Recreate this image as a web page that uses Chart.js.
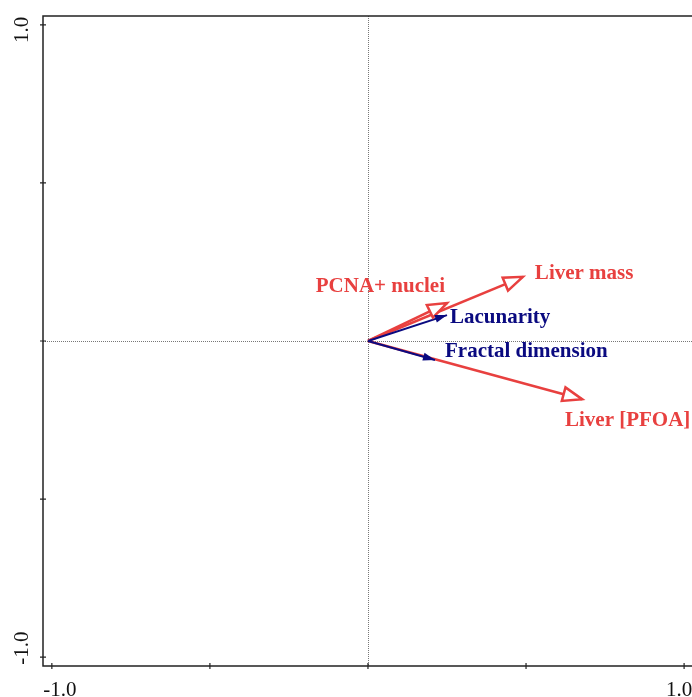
<!DOCTYPE html>
<html>
<head>
<meta charset="utf-8">
<script src="https://cdn.jsdelivr.net/npm/chart.js@4.4.1/dist/chart.umd.min.js"></script>
<style>
  html, body { margin: 0; padding: 0; background: #fff; }
  #wrap { width: 692px; height: 697px; }
</style>
</head>
<body>
<div id="wrap"><canvas id="biplot"></canvas></div>
<script>
const variables = ["Liver mass", "PCNA+ nuclei", "Lacunarity", "Fractal dimension", "Liver [PFOA]"];
const axis1 = [0.49, 0.25, 0.25, 0.212, 0.677];
const axis2 = [0.203, 0.12, 0.082, -0.06, -0.184];
const kinds = ["response", "response", "explanatory", "explanatory", "response"];
const tickValues = [-1, -0.5, 0, 0.5, 1];
const tickLabels = ["-1.0", "", "", "", "1.0"];

const RED = "#e8403f";
const NAVY = "#0a0a80";
const colorOf = k => k === "response" ? RED : NAVY;

// where each label sits relative to its arrow tip
const labelPlace = {
  "Liver mass": { dx: 12, dy: -3, align: "left" },
  "PCNA+ nuclei": { dx: -2, dy: -16, align: "right" },
  "Lacunarity": { dx: 3, dy: 3, align: "left" },
  "Fractal dimension": { dx: 10, dy: -8, align: "left" },
  "Liver [PFOA]": { dx: -17, dy: 21, align: "left" }
};

const datasets = variables.map((name, i) => ({
  label: name,
  data: [{ x: 0, y: 0 }, { x: axis1[i], y: axis2[i] }],
  showLine: true,
  borderColor: colorOf(kinds[i]),
  borderWidth: kinds[i] === "response" ? 2.5 : 2,
  pointRadius: 0,
  order: kinds[i] === "response" ? 2 : 1
}));

const biplotDecor = {
  id: "biplotDecor",
  beforeDatasetsDraw(chart) {
    const { ctx, chartArea: a, scales: { x, y } } = chart;
    ctx.save();
    ctx.strokeStyle = "#777";
    ctx.lineWidth = 1;
    ctx.setLineDash([1, 1]);
    const x0 = Math.round(x.getPixelForValue(0)) + 0.5;
    const y0 = Math.round(y.getPixelForValue(0)) + 0.5;
    ctx.beginPath();
    ctx.moveTo(x0, a.top); ctx.lineTo(x0, a.bottom);
    ctx.moveTo(a.left, y0); ctx.lineTo(a.right, y0);
    ctx.stroke();
    ctx.restore();
  },
  afterDatasetsDraw(chart) {
    const { ctx, chartArea: a, scales: { x, y } } = chart;
    ctx.save();

    // frame (right edge falls just off the canvas)
    ctx.strokeStyle = "#222";
    ctx.lineWidth = 1.5;
    ctx.beginPath();
    ctx.moveTo(a.right + 2, a.top);
    ctx.lineTo(a.left, a.top);
    ctx.lineTo(a.left, a.bottom);
    ctx.lineTo(a.right + 2, a.bottom);
    ctx.stroke();

    // ticks straddling the axes
    ctx.lineWidth = 1.2;
    ctx.beginPath();
    tickValues.forEach(v => {
      const px = x.getPixelForValue(v);
      ctx.moveTo(px, a.bottom - 3); ctx.lineTo(px, a.bottom + 3);
      const py = y.getPixelForValue(v);
      ctx.moveTo(a.left - 3, py); ctx.lineTo(a.left + 3, py);
    });
    ctx.stroke();

    // tick labels, nudged inward like the original
    ctx.fillStyle = "#111";
    ctx.font = "21px 'Liberation Serif', 'Times New Roman', serif";
    ctx.textAlign = "center";
    ctx.textBaseline = "middle";
    tickValues.forEach((v, i) => {
      if (!tickLabels[i]) return;
      const inX = v < 0 ? 8 : -5;
      const inY = v < 0 ? -9 : 5;
      ctx.fillText(tickLabels[i], x.getPixelForValue(v) + inX, a.bottom + 24);
      ctx.save();
      ctx.translate(a.left - 21, y.getPixelForValue(v) + inY);
      ctx.rotate(-Math.PI / 2);
      ctx.fillText(tickLabels[i], 0, 0);
      ctx.restore();
    });

    // arrow heads: red first, navy on top
    const order = variables.map((_, i) => i).sort((p, q) => (kinds[p] === "response" ? 0 : 1) - (kinds[q] === "response" ? 0 : 1));
    order.forEach(i => {
      const ox = x.getPixelForValue(0), oy = y.getPixelForValue(0);
      const tx = x.getPixelForValue(axis1[i]), ty = y.getPixelForValue(axis2[i]);
      const ang = Math.atan2(ty - oy, tx - ox);
      const open = kinds[i] === "response";
      const len = open ? 19 : 12, half = open ? 7 : 4;
      const bx = tx - len * Math.cos(ang), by = ty - len * Math.sin(ang);
      const nx = -Math.sin(ang) * half, ny = Math.cos(ang) * half;
      ctx.beginPath();
      ctx.moveTo(tx, ty);
      ctx.lineTo(bx + nx, by + ny);
      ctx.lineTo(bx - nx, by - ny);
      ctx.closePath();
      if (open) {
        ctx.fillStyle = "#fff";
        ctx.fill();
        ctx.strokeStyle = RED;
        ctx.lineWidth = 2.5;
        ctx.lineJoin = "miter";
        ctx.stroke();
      } else {
        ctx.fillStyle = NAVY;
        ctx.fill();
      }
    });

    // variable labels
    ctx.font = "bold 21px 'Liberation Serif', 'Times New Roman', serif";
    ctx.textBaseline = "middle";
    variables.forEach((name, i) => {
      const p = labelPlace[name];
      ctx.fillStyle = colorOf(kinds[i]);
      ctx.textAlign = p.align;
      ctx.fillText(name, x.getPixelForValue(axis1[i]) + p.dx, y.getPixelForValue(axis2[i]) + p.dy);
    });

    ctx.restore();
  }
};

const chart = new Chart(document.getElementById("biplot"), {
  type: "scatter",
  data: { datasets },
  options: {
    responsive: true,
    maintainAspectRatio: false,
    animation: false,
    layout: { padding: { left: 43, top: 16, right: 0, bottom: 31 } },
    plugins: { legend: { display: false }, tooltip: { enabled: false } },
    scales: {
      x: {
        type: "linear", min: -1.028, max: 1.025,
        ticks: { display: false }, grid: { display: false }, border: { display: false },
        afterFit: s => { s.height = 0; }
      },
      y: {
        type: "linear", min: -1.028, max: 1.028,
        ticks: { display: false }, grid: { display: false }, border: { display: false },
        afterFit: s => { s.width = 0; }
      }
    }
  },
  plugins: [biplotDecor]
});
</script>
</body>
</html>
